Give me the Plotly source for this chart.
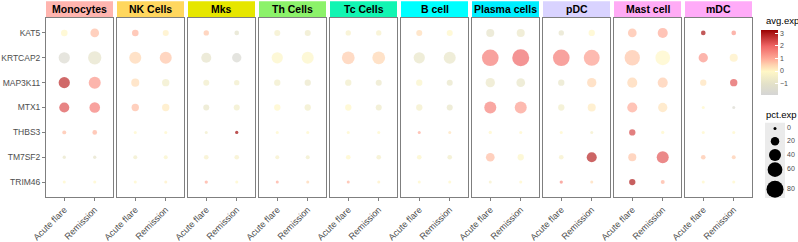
import numpy as np
import plotly.graph_objects as go

# ---------------- data ----------------
genes = ["KAT5", "KRTCAP2", "MAP3K11", "MTX1", "THBS3", "TM7SF2", "TRIM46"]
cell_types = ["Monocytes", "NK Cells", "Mks", "Th Cells", "Tc Cells", "B cell",
              "Plasma cells", "pDC", "Mast cell", "mDC"]
conditions = ["Acute flare", "Remission"]

# average scaled expression, one row per cell type, genes in order above
avg_exp_acute = [
    [0.0, -1.5, 2.8, 2.3, 0.8, -0.8, 0.0],    # Monocytes
    [0.9, 0.5, 0.4, 0.8, 0.0, -0.5, 0.0],     # NK Cells
    [0.7, -0.9, -0.5, -0.8, -0.5, -0.3, 1.0], # Mks
    [-0.4, -0.1, -0.5, 0.0, 0.0, -0.3, 1.0],  # Th Cells
    [-0.3, 0.6, -0.5, 0.0, 0.0, 0.0, 0.9],    # Tc Cells
    [0.4, -0.8, -0.2, -0.4, 1.0, -0.1, 0.0],  # B cell
    [-0.9, 1.7, -0.7, 1.6, 0.0, 0.8, -0.3],   # Plasma cells
    [-0.9, 1.7, -0.8, -0.5, 0.0, -0.3, 1.5],  # pDC
    [0.8, 0.7, 0.5, 1.0, 2.4, 0.7, 3.0],      # Mast cell
    [3.1, 1.3, 0.3, 0.0, 0.0, 0.7, 0.0],      # mDC
]
avg_exp_remission = [
    [0.8, -0.9, 1.3, 1.7, 0.9, -0.9, 0.0],    # Monocytes
    [0.1, 0.7, -0.5, 0.2, 0.0, -0.2, 0.1],    # NK Cells
    [-1.0, -1.6, -0.5, -0.5, 3.2, -0.3, 0.0], # Mks
    [-0.6, -0.1, -0.7, -0.5, 0.0, -0.5, 0.5], # Th Cells
    [-0.3, 0.5, -0.7, -0.6, 0.0, -0.4, 0.1],  # Tc Cells
    [0.0, -0.8, -0.8, -0.8, 0.3, -0.5, 0.0],  # B cell
    [-0.7, 2.0, -0.8, 1.2, 0.0, -0.1, 0.0],   # Plasma cells
    [0.0, 1.2, 0.5, 0.2, -0.4, 2.9, 0.4],     # pDC
    [1.0, 0.0, 0.6, 0.3, 0.0, 2.2, 0.9],      # Mast cell
    [1.3, 0.1, 2.2, -1.5, 0.0, 0.6, 0.0],     # mDC
]
# percent of cells expressing
pct_exp_acute = [
    [12, 35, 35, 28, 4.4, 3, 1],      # Monocytes
    [12, 40, 18, 15, 2, 4.4, 2],      # NK Cells
    [8, 28, 10, 10, 1, 6, 3],         # Mks
    [10, 35, 11, 11, 2, 4.4, 2],      # Th Cells
    [8, 45, 11, 11, 2, 6, 2],         # Tc Cells
    [10, 35, 11, 11, 2, 6, 1],        # B cell
    [18, 77, 24, 40, 3, 21, 2],       # Plasma cells
    [8, 77, 11, 11, 0.5, 6, 3],       # pDC
    [21, 65, 28, 28, 11, 18, 11],     # Mast cell
    [6, 24, 11, 0.5, 0.3, 6, 0.5],    # mDC
]
pct_exp_remission = [
    [21, 49, 40, 31, 6, 3, 1],        # Monocytes
    [10, 40, 15, 15, 1, 4.4, 2],      # NK Cells
    [6, 24, 8, 10, 3, 6, 0.5],        # Mks
    [10, 40, 11, 11, 1, 4.4, 2],      # Th Cells
    [8, 45, 10, 10, 2, 6, 1],         # Tc Cells
    [10, 40, 10, 10, 1, 6, 1],        # B cell
    [18, 80, 21, 40, 0.5, 11, 0.5],   # Plasma cells
    [11, 70, 24, 18, 2, 28, 2],       # pDC
    [28, 60, 28, 24, 3, 40, 4.4],     # Mast cell
    [6, 18, 15, 2, 0.3, 4.4, 0.5],    # mDC
]
avg_exp_breaks = [-1, 0, 1, 2, 3]
pct_exp_breaks = [0, 20, 40, 60, 80]

# ---------------- style ----------------
strip_colors = ["#FFB5AF", "#FFD75E", "#E6E600", "#8CF26A", "#12F5B2",
                "#00FFFF", "#00EEFF", "#D9D3FF", "#FFABF5", "#FFABF8"]
colorscale = [
    [0.0, "#d5d5d5"],
    [0.17, "#e3e1c9"],
    [0.362, "#fff7c6"],
    [0.46, "#ffd4b0"],
    [0.555, "#ffab98"],
    [0.75, "#f06666"],
    [0.94, "#b01c1c"],
    [1.0, "#990000"],
]
FONT = "Liberation Sans, Arial, sans-serif"
W, H = 798, 242
ML, MR, MT, MB = 46, 0, 18, 40
PW, PH = W - ML - MR, H - MT - MB
SIZEREF = 2 * 80 / 17.0 ** 2   # 80% -> ~17 px diameter (area scaling)
BORDER = "#7f7f7f"


def px_x(px):
    return (px - ML) / PW


def px_y(py):
    return (H - MB - py) / PH


fig = go.Figure()
layout_axes = {}
shapes = []
annotations = []

for i, ct in enumerate(cell_types):
    k = "" if i == 0 else str(i + 1)
    x0 = 46 + i * 71
    x1 = x0 + 67
    xs = [c for c in conditions for _ in genes]
    ys = genes * 2
    colors = avg_exp_acute[i] + avg_exp_remission[i]
    sizes = np.clip(np.array(pct_exp_acute[i] + pct_exp_remission[i], float), 0.3, None)
    fig.add_trace(go.Scatter(
        x=xs, y=ys, mode="markers", xaxis="x" + k, yaxis="y" + k,
        marker=dict(size=sizes, sizemode="area", sizeref=SIZEREF, sizemin=1.5,
                    color=colors, coloraxis="coloraxis", line=dict(width=0)),
        showlegend=False,
        hovertemplate=ct + "<br>%{x}<br>%{y}<extra></extra>",
    ))
    layout_axes["xaxis" + k] = dict(
        domain=[px_x(x0), px_x(x1)], anchor="y" + k, type="category",
        categoryorder="array", categoryarray=conditions, range=[-0.6, 1.6],
        showline=True, mirror=True, linecolor=BORDER, linewidth=1,
        ticks="outside", ticklen=3, tickcolor=BORDER, tickangle=-45,
        tickfont=dict(family=FONT, size=9, color="#4d4d4d"),
        showgrid=False, zeroline=False, fixedrange=True,
    )
    layout_axes["yaxis" + k] = dict(
        domain=[px_y(201), 1], anchor="x" + k, type="category",
        categoryorder="array", categoryarray=genes, range=[6.6, -0.6],
        showline=True, mirror=True, linecolor=BORDER, linewidth=1,
        ticks="outside" if i == 0 else "", ticklen=3, tickcolor=BORDER,
        showticklabels=(i == 0),
        tickfont=dict(family=FONT, size=8.5, color="#4d4d4d"),
        showgrid=False, zeroline=False, fixedrange=True,
    )
    shapes.append(dict(type="rect", xref="paper", yref="paper",
                       x0=px_x(x0), x1=px_x(x1), y0=px_y(17), y1=px_y(1),
                       fillcolor=strip_colors[i], line=dict(width=0)))
    annotations.append(dict(x=px_x((x0 + x1) / 2), y=px_y(9), xref="paper", yref="paper",
                            text="<b>" + ct + "</b>", showarrow=False,
                            xanchor="center", yanchor="middle",
                            font=dict(family=FONT, size=10.5, color="black")))

# ---- size legend (pct.exp) ----
legend_key_y = [131, 144, 158, 173, 193]
fig.add_trace(go.Scatter(
    x=[775] * len(pct_exp_breaks), y=legend_key_y, mode="markers",
    xaxis="x11", yaxis="y11",
    marker=dict(size=np.clip(np.array(pct_exp_breaks, float), 0.3, None),
                sizemode="area", sizeref=SIZEREF, sizemin=1.5,
                color="#000000", opacity=1, line=dict(width=0)),
    opacity=1, showlegend=False, hoverinfo="skip"))
fig.add_trace(go.Scatter(
    x=[787] * len(pct_exp_breaks), y=legend_key_y, mode="text",
    text=[str(b) for b in pct_exp_breaks], textposition="middle right",
    textfont=dict(family=FONT, size=7, color="#4d4d4d"),
    xaxis="x11", yaxis="y11", showlegend=False, hoverinfo="skip"))
layout_axes["xaxis11"] = dict(domain=[px_x(762), 1], anchor="y11", range=[762, 798],
                              visible=False, fixedrange=True)
layout_axes["yaxis11"] = dict(domain=[0, px_y(122)], anchor="x11", range=[202, 122],
                              visible=False, fixedrange=True)
shapes.append(dict(type="rect", xref="x11", yref="y11", x0=765, x1=785, y0=125, y1=202,
                   fillcolor="#ebebeb", line=dict(width=0), layer="below"))

annotations.append(dict(x=px_x(764), y=px_y(21), xref="paper", yref="paper", text="avg.exp",
                        showarrow=False, xanchor="left", yanchor="middle",
                        font=dict(family=FONT, size=9.5, color="black")))
annotations.append(dict(x=px_x(764), y=px_y(117), xref="paper", yref="paper", text="pct.exp",
                        showarrow=False, xanchor="left", yanchor="middle",
                        font=dict(family=FONT, size=9.5, color="black")))

fig.update_layout(
    width=W, height=H, margin=dict(l=ML, r=MR, t=MT, b=MB, pad=0),
    paper_bgcolor="white", plot_bgcolor="white",
    font=dict(family=FONT),
    coloraxis=dict(
        cmin=-1.87, cmax=3.3, colorscale=colorscale,
        colorbar=dict(
            x=px_x(761), xanchor="left", xpad=0,
            y=px_y(63), yanchor="middle", ypad=0,
            len=65, lenmode="pixels", thickness=17, thicknessmode="pixels",
            outlinewidth=0, ticks="inside", tickcolor="white", ticklen=3,
            tickvals=avg_exp_breaks,
            tickfont=dict(family=FONT, size=7, color="#4d4d4d"),
        ),
    ),
    shapes=shapes, annotations=annotations,
    **layout_axes,
)

fig.write_html("out.html", config={"displayModeBar": False},
               post_script="document.body.style.margin='0px';")
